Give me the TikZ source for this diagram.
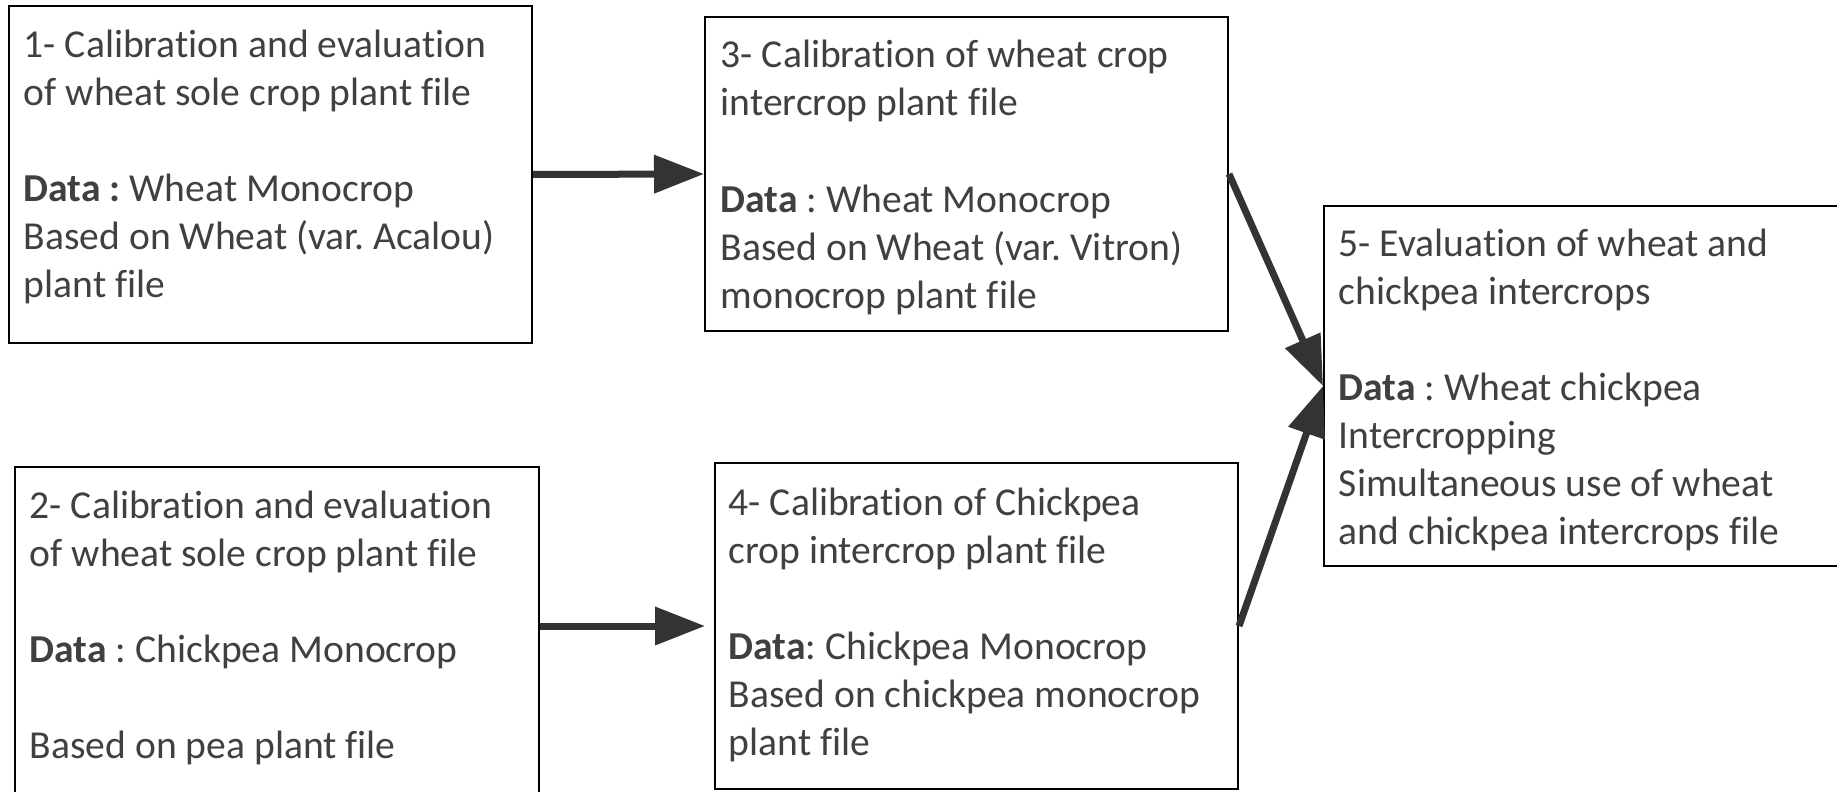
\documentclass[tikz,border=0pt]{standalone}
\usepackage{fontspec}
\setmainfont{Carlito}[Ligatures=NoCommon]
\usepackage{xcolor}
\usetikzlibrary{arrows.meta}
\frenchspacing

\definecolor{stagetextcol}{HTML}{404040}
\definecolor{flowcol}{HTML}{333333}

\tikzset{
  stagebox/.style={draw=black, line width=0.5pt, anchor=north west, inner sep=0pt},
  % anchored at the baseline of the last line
  stagetext/.style={anchor=base west, align=left, inner sep=0pt, text=stagetextcol,
    font=\fontsize{9.9}{12}\selectfont},
  flowarrow/.style={draw=flowcol, line width=1.75pt,
    -{Triangle[length=12.5pt, width=9.25pt]}}
}

\begin{document}
\begin{tikzpicture}[x=0.25pt, y=-0.25pt]
  \useasboundingbox (0,0) rectangle (1837,791);
  % boxes
  \node[stagebox, minimum width=130.75pt, minimum height=84.25pt] (calib1) at (8,5) {};
  \node[stagebox, minimum width=131pt, minimum height=90pt] (calib2) at (14,466) {};
  \node[stagebox, minimum width=130.75pt, minimum height=78.5pt] (calib3) at (704,16) {};
  \node[stagebox, minimum width=130.75pt, minimum height=81.5pt] (calib4) at (714,462) {};
  \node[stagebox, minimum width=131pt, minimum height=90pt] (eval5) at (1323,205) {};

  % texts
  \node[stagetext] (calib1txt) at ([shift={(15,292)}]calib1.north west)
    {1- Calibration and evaluation\\ of wheat sole crop plant file\\[12pt]
     \textbf{Data :} Wheat Monocrop\\ Based on Wheat (var. Acalou)\\ plant file};
  \node[stagetext] (calib2txt) at ([shift={(15,292)}]calib2.north west)
    {2- Calibration and evaluation\\ of wheat sole crop plant file\\[12pt]
     \textbf{Data} : Chickpea Monocrop\\[12pt] Based on pea plant file};
  \node[stagetext] (calib3txt) at ([shift={(16,292)}]calib3.north west)
    {3- Calibration of wheat crop\\ intercrop plant file\\[12pt]
     \textbf{Data} : Wheat Monocrop\\ Based on Wheat (var. Vitron)\\ monocrop plant file};
  \node[stagetext] (calib4txt) at ([shift={(14,293)}]calib4.north west)
    {4- Calibration of Chickpea\\ crop intercrop plant file\\[12pt]
     \textbf{Data}: Chickpea Monocrop\\ Based on chickpea monocrop\\ plant file};
  \node[stagetext] (eval5txt) at ([shift={(15,339)}]eval5.north west)
    {5- Evaluation of wheat and\\ chickpea intercrops\\[12pt]
     \textbf{Data} : Wheat chickpea\\ Intercropping\\ Simultaneous use of wheat\\
     and chickpea intercrops file};

  % arrows
  \draw[flowarrow] (calib1.east) -- (calib3.west);
  \draw[flowarrow, shorten >=2.25pt] (calib2.east |- calib4.west) -- (calib4.west);
  \draw[flowarrow] (calib3.east) -- (eval5.west);
  \draw[flowarrow] (calib4.east) -- (eval5.west);
\end{tikzpicture}
\end{document}
